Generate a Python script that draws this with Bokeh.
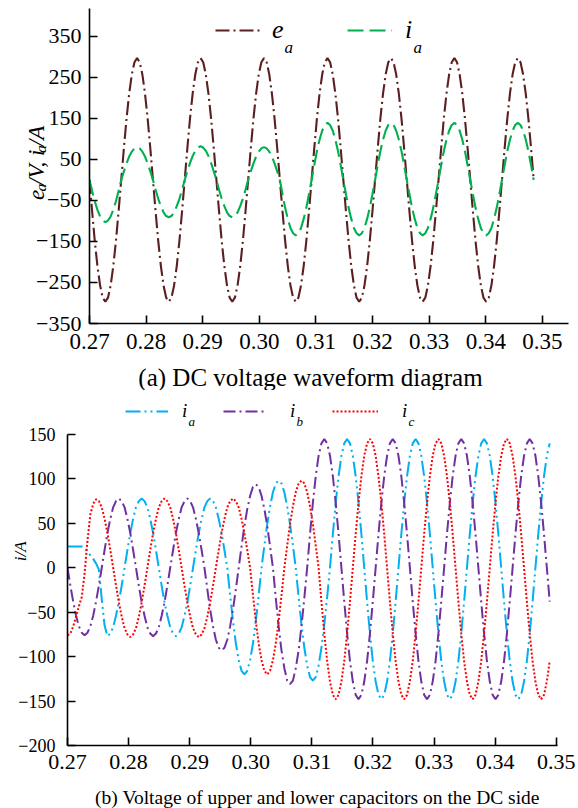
import numpy as np
from bokeh.plotting import figure
from bokeh.models import (Range1d, FixedTicker, PrintfTickFormatter, Legend,
                          LegendItem, Label)
from bokeh.layouts import column, row
from bokeh.embed import file_html
from bokeh.resources import INLINE

FONT = "Liberation Serif"

t_start = 0.27          # s, first sample
t_step = 0.000467       # s, sampling step

x_ticks = [0.27, 0.28, 0.29, 0.30, 0.31, 0.32, 0.33, 0.34, 0.35]
top_y_ticks = [-350, -250, -150, -50, 50, 150, 250, 350]
bot_y_ticks = [-200, -150, -100, -50, 0, 50, 100, 150]

# (a) e_a in V
top_ea = [
    0, -77, -149, -210, -257, -287, -297, -287, -257, -210, -149, -77,
    0, 77, 149, 210, 257, 287, 297, 287, 257, 210, 149, 77,
    0, -77, -149, -210, -257, -287, -297, -287, -257, -210, -149, -77,
    0, 77, 149, 210, 257, 287, 297, 287, 257, 210, 149, 77,
    0, -77, -149, -210, -257, -287, -297, -287, -257, -210, -149, -77,
    0, 77, 149, 210, 257, 287, 297, 287, 257, 210, 149, 77,
    0, -77, -149, -210, -257, -287, -297, -287, -257, -210, -149, -77,
    0, 77, 149, 210, 257, 287, 297, 287, 257, 210, 149, 77,
    0, -77, -149, -210, -257, -287, -297, -287, -257, -210, -149, -77,
    0, 77, 149, 210, 257, 287, 297, 287, 257, 210, 149, 77,
    0, -77, -149, -210, -257, -287, -297, -287, -257, -210, -149, -77,
    0, 77, 149, 210, 257, 287, 297, 287, 257, 210, 149, 77,
    0, -77, -149, -210, -257, -287, -297, -287, -257, -210, -149, -77,
    0, 77, 149, 210, 257, 287, 297, 287, 257, 210, 149, 77,
    0,
]

# (a) i_a in A
top_ia = [
    0, -27, -52, -73, -89, -99, -103, -99, -89, -73, -52, -27,
    0, 21, 40, 57, 69, 77, 80, 77, 69, 57, 40, 21,
    0, -24, -46, -64, -79, -88, -91, -88, -79, -64, -46, -24,
    0, 21, 41, 58, 71, 79, 82, 79, 71, 58, 41, 21,
    0, -24, -46, -64, -79, -88, -91, -88, -79, -64, -46, -24,
    0, 21, 40, 57, 69, 77, 80, 77, 69, 57, 40, 21,
    0, -35, -68, -95, -117, -130, -135, -130, -117, -95, -68, -35,
    0, 36, 70, 98, 120, 134, 139, 134, 120, 98, 70, 36,
    0, -35, -68, -95, -117, -130, -135, -130, -117, -95, -68, -35,
    0, 36, 70, 98, 120, 134, 139, 134, 120, 98, 70, 36,
    0, -35, -68, -95, -117, -130, -135, -130, -117, -95, -68, -35,
    0, 36, 70, 98, 120, 134, 139, 134, 120, 98, 70, 36,
    0, -35, -68, -95, -117, -130, -135, -130, -117, -95, -68, -35,
    0, 36, 70, 98, 120, 134, 139, 134, 120, 98, 70, 36,
    0,
]

# (b) three phase currents in A
bot_ia = [
    24, 24, 24, 24, 24, 24, 22, 18, 14, 10, 5, -2,
    -35, -65, -77, -74, -67, -54, -38, -20,
    0, 20, 39, 55, 68, 75, 78, 75, 68, 55, 39, 20,
    0, -20, -39, -54, -67, -74, -77, -74, -67, -54, -39, -20,
    0, 20, 39, 55, 68, 75, 78, 75, 68, 55, 39, 20,
    0, -31, -60, -85, -104, -116, -120, -116, -104, -85, -60, -31,
    0, 25, 49, 69, 85, 95, 98, 95, 85, 69, 49, 25,
    0, -33, -64, -90, -110, -123, -127, -123, -110, -90, -64, -33,
    0, 38, 73, 103, 126, 140, 145, 140, 126, 103, 73, 38,
    0, -38, -74, -105, -128, -143, -148, -143, -128, -105, -74, -38,
    0, 38, 73, 103, 126, 140, 145, 140, 126, 103, 73, 38,
    0, -38, -74, -105, -128, -143, -148, -143, -128, -105, -74, -38,
    0, 38, 73, 103, 126, 140, 145, 140, 126, 103, 73, 38,
    0, -38, -74, -105, -128, -143, -148, -143, -128, -105, -74, -38,
    0, 38, 73, 103, 126, 140,
]

bot_ib = [
    0, -20, -38, -54, -66, -73, -76, -73, -66, -54, -38, -20,
    0, 20, 39, 55, 68, 75, 78, 75, 68, 55, 39, 20,
    0, -20, -39, -54, -67, -74, -77, -74, -67, -54, -39, -20,
    0, 20, 39, 55, 68, 75, 78, 75, 68, 55, 39, 20,
    0, -24, -47, -66, -81, -90, -93, -90, -81, -66, -47, -24,
    0, 24, 47, 66, 81, 91, 94, 91, 81, 66, 47, 24,
    0, -34, -66, -93, -113, -127, -131, -127, -113, -93, -66, -34,
    0, 38, 73, 103, 126, 140, 145, 140, 126, 103, 73, 38,
    0, -38, -74, -105, -128, -143, -148, -143, -128, -105, -74, -38,
    0, 38, 73, 103, 126, 140, 145, 140, 126, 103, 73, 38,
    0, -38, -74, -105, -128, -143, -148, -143, -128, -105, -74, -38,
    0, 38, 73, 103, 126, 140, 145, 140, 126, 103, 73, 38,
    0, -38, -74, -105, -128, -143, -148, -143, -128, -105, -74, -38,
    0, 38, 73, 103, 126, 140, 145, 140, 126, 103, 73, 38,
    0, -38,
]

bot_ic = [
    -76, -74, -66, -55, -43, -33, -6, 30, 60, 72, 77, 75, 68, 55, 39, 20,
    0, -20, -39, -55, -68, -75, -78, -75, -68, -55, -39, -20,
    0, 20, 39, 55, 68, 75, 78, 75, 68, 55, 39, 20,
    0, -20, -39, -55, -68, -75, -78, -75, -68, -55, -39, -20,
    0, 20, 39, 55, 68, 75, 78, 75, 68, 55, 39, 20,
    0, -31, -60, -85, -104, -116, -120, -116, -104, -85, -60, -31,
    0, 25, 49, 69, 85, 95, 98, 95, 85, 69, 49, 25,
    0, -38, -74, -105, -128, -143, -148, -143, -128, -105, -74, -38,
    0, 38, 73, 103, 126, 140, 145, 140, 126, 103, 73, 38,
    0, -38, -74, -105, -128, -143, -148, -143, -128, -105, -74, -38,
    0, 38, 73, 103, 126, 140, 145, 140, 126, 103, 73, 38,
    0, -38, -74, -105, -128, -143, -148, -143, -128, -105, -74, -38,
    0, 38, 73, 103, 126, 140, 145, 140, 126, 103, 73, 38,
    0, -38, -74, -105, -128, -143, -148, -143, -128, -105,
]


def times(vals):
    return t_start + t_step * np.arange(len(vals))


def style_axes(p, xsize, ysize, xstand, ystand, yticks):
    p.xgrid.visible = False
    p.ygrid.visible = False
    p.outline_line_color = None
    p.background_fill_color = "white"
    p.border_fill_color = None          # transparent border: label strip shows through
    p.xaxis.ticker = FixedTicker(ticks=x_ticks)
    p.xaxis.formatter = PrintfTickFormatter(format="%.2f")
    p.yaxis.ticker = FixedTicker(ticks=yticks)
    for ax in (p.xaxis[0], p.yaxis[0]):
        ax.axis_line_width = 1.6
        ax.axis_line_color = "black"
        ax.major_tick_in = 8
        ax.major_tick_out = 0
        ax.major_tick_line_width = 1.6
        ax.major_tick_line_color = "black"
        ax.minor_tick_line_color = None
        ax.major_label_text_font = FONT
        ax.major_label_text_color = "black"
    p.xaxis.major_label_text_font_size = f"{xsize}px"
    p.yaxis.major_label_text_font_size = f"{ysize}px"
    p.xaxis.major_label_standoff = xstand
    p.yaxis.major_label_standoff = ystand


def add_legend(p, r, loc, glyph_w, text, standoff, size):
    lg = Legend(items=[LegendItem(label=text, renderers=[r])], location=loc,
                orientation="horizontal", glyph_width=glyph_w, glyph_height=20,
                label_standoff=standoff, padding=0, margin=0, spacing=0,
                border_line_color=None, background_fill_alpha=0,
                label_text_font=FONT, label_text_font_style="italic",
                label_text_font_size=f"{size}px", label_height=20, label_width=5,
                label_text_color="black")
    p.add_layout(lg)


def frame_label(p, text, px, py, fl, fb, size, italic=False):
    # text inside a plot frame; (px, py) page position, (fl, fb) frame left/bottom
    p.add_layout(Label(x=p.x_range.start, y=p.y_range.start, x_offset=px - fl,
                       y_offset=fb - py, text=text, text_font=FONT,
                       text_font_size=f"{size}px",
                       text_font_style="italic" if italic else "normal",
                       text_align="left", text_baseline="alphabetic",
                       text_color="black"))


def strip(w, h, transparent=False, margin=None):
    f = figure(width=w, height=h, x_range=Range1d(0, w), y_range=Range1d(0, h),
               output_backend="svg", toolbar_location=None, min_border=0,
               x_axis_type=None, y_axis_type=None, margin=margin)
    f.outline_line_color = None
    f.background_fill_color = None if transparent else "white"
    f.border_fill_color = None if transparent else "white"
    return f


def strip_text(f, y0, text, px, py, size, italic=False, align="left",
               baseline="alphabetic", angle=0.0):
    # (px, py) page position; strip placed at page x 0 and page y y0
    f.add_layout(Label(x=px, y=(y0 + f.height) - py, text=text, text_font=FONT,
                       text_font_size=f"{size}px",
                       text_font_style="italic" if italic else "normal",
                       text_align=align, text_baseline=baseline, angle=angle,
                       text_color="black"))


half_pi = np.pi / 2

# ---------------- (a) ----------------   page y 0..375
p1 = figure(width=578, height=375, x_range=Range1d(0.27, 0.3546),
            y_range=Range1d(-350, 418), output_backend="svg",
            toolbar_location=None, min_border_left=89, min_border_right=10,
            min_border_top=8, min_border_bottom=52, margin=(0, 0, 0, -60))
style_axes(p1, 23, 22, 10, 8, top_y_ticks)
r_ea = p1.line(times(top_ea), top_ea, line_color="#5C1F1F", line_width=2.1,
               line_dash="14 4 2 4")
r_ia = p1.line(times(top_ia), top_ia, line_color="#00B050", line_width=2.1,
               line_dash="16 6")
FL1, FB1 = 89, 323
add_legend(p1, r_ea, (215 - FL1, 278), 45, "e", 12, 26)
add_legend(p1, r_ia, (347 - FL1, 278), 45, "i", 13, 26)
frame_label(p1, "a", 284, 47, FL1, FB1, 17, italic=True)
frame_label(p1, "a", 413, 47, FL1, FB1, 17, italic=True)

# label strip lying under the transparent left border of p1
s1 = strip(60, 375)
strip_text(s1, 0, "e", 36, 228, 23, italic=True, angle=half_pi)
strip_text(s1, 0, "a", 39.5, 217.8, 15.5, italic=True, angle=half_pi)
strip_text(s1, 0, "/V, i", 36, 210, 23, italic=True, angle=half_pi)
strip_text(s1, 0, "a", 39.5, 172, 15.5, italic=True, angle=half_pi)
strip_text(s1, 0, "/A", 36, 164, 23, italic=True, angle=half_pi)

capA = strip(578, 30, transparent=True, margin=(-15, 0, 0, 0))   # page y 360..390
strip_text(capA, 360, "(a) DC voltage waveform diagram", 310, 377, 25,
           align="center", baseline="middle")

# ---------------- (b) ----------------   page y 390..795
p2 = figure(width=578, height=405, x_range=Range1d(0.27, 0.3502),
            y_range=Range1d(-200, 190.5), output_backend="svg",
            toolbar_location=None, min_border_left=67, min_border_right=21,
            min_border_top=8, min_border_bottom=50, margin=(0, 0, 0, -40))
style_axes(p2, 22, 18, 9, 12, bot_y_ticks)
p2.yaxis.bounds = (-200, 150)
r_a = p2.line(times(bot_ia), bot_ia, line_color="#00B0F0", line_width=2,
              line_dash="15 4 2 4 2 4")
r_b = p2.line(times(bot_ib), bot_ib, line_color="#7030A0", line_width=2,
              line_dash="12 4 2 4")
r_c = p2.line(times(bot_ic), bot_ic, line_color="#FF0000", line_width=2,
              line_dash="2 2")
FL2, FB2 = 67, 745
add_legend(p2, r_a, (125 - FL2, 323), 43, "i", 14, 19)
add_legend(p2, r_b, (223 - FL2, 323), 44, "i", 23, 19)
add_legend(p2, r_c, (332 - FL2, 323), 46, "i", 24, 19)
frame_label(p2, "a", 188, 421, FL2, FB2, 13, italic=True)
frame_label(p2, "b", 296, 421, FL2, FB2, 13, italic=True)
frame_label(p2, "c", 408, 421, FL2, FB2, 13, italic=True)

s2 = strip(40, 405)
strip_text(s2, 390, "i/A", 20, 580, 17, italic=True, angle=half_pi)

capB = strip(578, 28, transparent=True, margin=(-15, 0, 0, 0))   # page y 780..808
strip_text(capB, 780,
           "(b) Voltage of upper and lower capacitors on the DC side",
           317, 797, 19.5, align="center", baseline="middle")

layout = column(row(s1, p1), capA, row(s2, p2), capB)
open("out.html", "w").write(file_html(layout, INLINE))
